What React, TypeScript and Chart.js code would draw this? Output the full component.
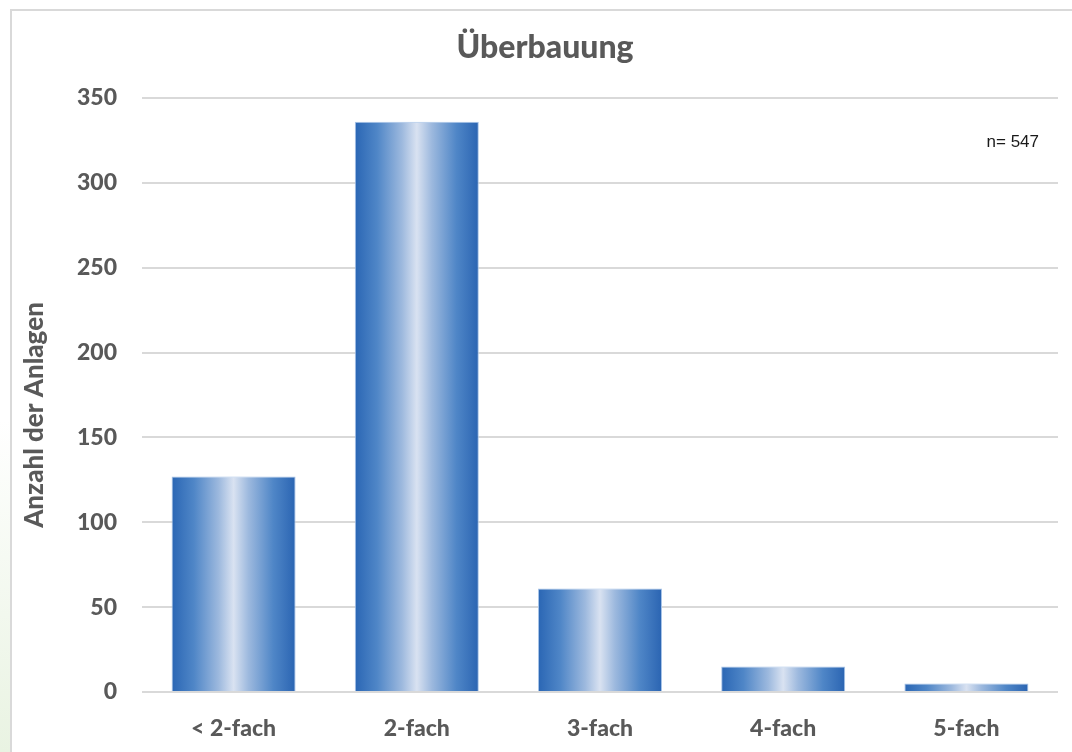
import React, { useEffect, useRef } from "react";
import { Chart, registerables } from "chart.js";

Chart.register(...registerables);

const chartTitle = "Überbauung";
const yAxisTitle = "Anzahl der Anlagen";
const sampleNote = "n= 547";
const categories = ["< 2-fach", "2-fach", "3-fach", "4-fach", "5-fach"];
const counts = [127, 336, 61, 15, 5];
const yTicks = [0, 50, 100, 150, 200, 250, 300, 350];

const GREY_TEXT = "#595959";
const GRID = "#d9d9d9";
const BAR_PCT = 0.677;

// Horizontal "metallic" gradient per bar: dark blue edges, pale centre
function barGradient(ctx: any) {
  const chart = ctx.chart;
  const xScale = chart.scales?.x;
  if (!xScale || ctx.dataIndex === undefined) return "#2f6cb8";
  const cx = xScale.getPixelForValue(ctx.dataIndex);
  const w = (xScale.width / categories.length) * BAR_PCT;
  if (!isFinite(cx) || !isFinite(w) || w <= 0) return "#2f6cb8";
  const g = chart.ctx.createLinearGradient(cx - w / 2, 0, cx + w / 2, 0);
  g.addColorStop(0, "#2a66b4");
  g.addColorStop(0.18, "#4f86c7");
  g.addColorStop(0.38, "#9db9de");
  g.addColorStop(0.5, "#d9e2f1");
  g.addColorStop(0.62, "#9db9de");
  g.addColorStop(0.82, "#4f86c7");
  g.addColorStop(1, "#2a64b2");
  return g;
}

// Chart title, rotated y-axis caption and the sample-size note
const annotations = {
  id: "chartTexts",
  afterDraw(chart: any) {
    const { ctx, chartArea } = chart;
    ctx.save();
    ctx.fillStyle = GREY_TEXT;
    ctx.font = "900 32px Lato";
    ctx.textAlign = "center";
    ctx.textBaseline = "alphabetic";
    ctx.fillText(chartTitle, 545, 58);

    ctx.save();
    ctx.translate(35, chartArea.top + 317);
    ctx.rotate(-Math.PI / 2);
    ctx.font = "900 26px Lato";
    ctx.textBaseline = "middle";
    ctx.fillText(yAxisTitle, 0, 0);
    ctx.restore();

    ctx.fillStyle = "#1a1a1a";
    ctx.font = "17px 'Liberation Sans'";
    ctx.textAlign = "right";
    ctx.textBaseline = "alphabetic";
    ctx.fillText(sampleNote, chartArea.right - 19, chartArea.top + 49);
    ctx.restore();
  },
};

export default function App() {
  const ref = useRef<HTMLCanvasElement | null>(null);

  useEffect(() => {
    if (!ref.current) return;
    const chart = new Chart(ref.current, {
      type: "bar",
      data: {
        labels: categories,
        datasets: [
          {
            data: counts,
            backgroundColor: barGradient,
            borderColor: "#a8c4e8",
            borderWidth: 1,
            barPercentage: BAR_PCT,
            categoryPercentage: 1,
          },
        ],
      },
      options: {
        animation: false,
        responsive: false,
        devicePixelRatio: 1,
        layout: { padding: { left: 0, right: 14, top: 98, bottom: 0 } },
        plugins: {
          legend: { display: false },
          title: { display: false },
          tooltip: { enabled: false },
        },
        scales: {
          x: {
            grid: { display: false, drawTicks: false },
            border: { display: false },
            ticks: {
              color: GREY_TEXT,
              font: { family: "Lato", size: 23, weight: "900" },
              padding: 23,
            },
            afterFit: (s: any) => {
              s.height = 60;
            },
          },
          y: {
            min: 0,
            max: 350,
            afterBuildTicks: (s: any) => {
              s.ticks = yTicks.map((v) => ({ value: v }));
            },
            grid: { color: GRID, lineWidth: 2, drawTicks: false },
            border: { display: false },
            ticks: {
              color: GREY_TEXT,
              font: { family: "Lato", size: 23, weight: "900" },
              padding: 25,
            },
            afterFit: (s: any) => {
              s.width = 142;
            },
          },
        },
      },
      plugins: [annotations],
    });
    chart.update();
    return () => chart.destroy();
  }, []);

  return (
    <div
      style={{
        position: "absolute",
        left: 0,
        top: 0,
        width: 1072,
        height: 752,
        overflow: "hidden",
        background: "#ffffff",
      }}
    >
      <div
        style={{
          position: "absolute",
          left: 0,
          top: 420,
          width: 11,
          height: 332,
          background: "linear-gradient(to bottom, rgba(236,244,230,0), #e9f3e2)",
        }}
      />
      <div
        style={{
          position: "absolute",
          left: 10,
          top: 9,
          width: 1100,
          height: 800,
          border: `2px solid ${GRID}`,
          boxSizing: "border-box",
        }}
      />
      <canvas
        ref={ref}
        width={1072}
        height={752}
        style={{ position: "absolute", left: 0, top: 0, width: 1072, height: 752 }}
      />
    </div>
  );
}
